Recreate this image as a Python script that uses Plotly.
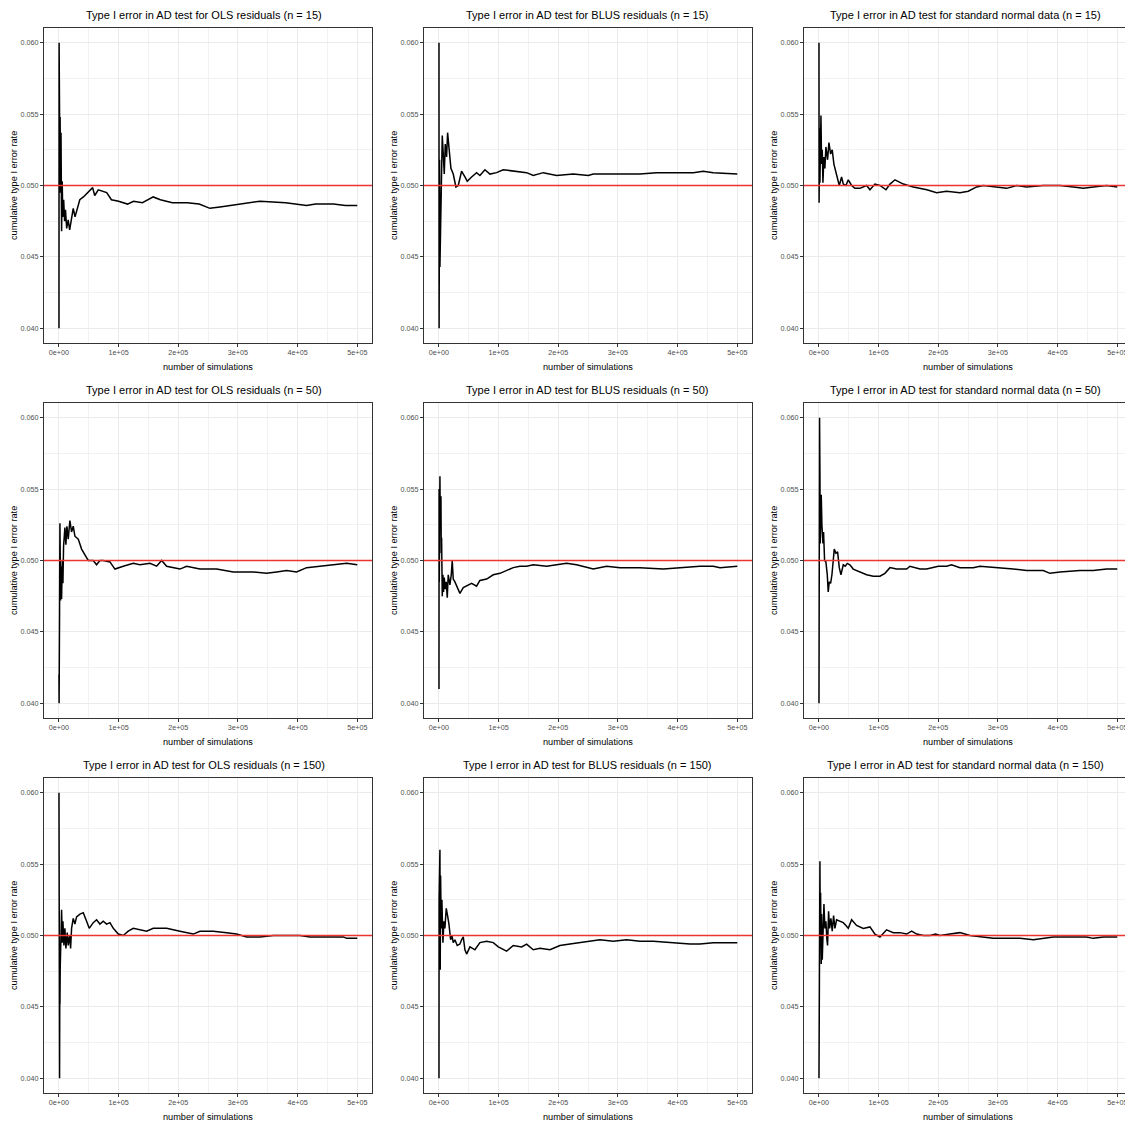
import plotly.graph_objects as go

FONT = "Liberation Sans, Arial, sans-serif"

# ---- axis ticks ----
x_ticks = [0, 100000, 200000, 300000, 400000, 500000]
x_tick_labels = ["0e+00", "1e+05", "2e+05", "3e+05", "4e+05", "5e+05"]
x_minor = [50000, 150000, 250000, 350000, 450000]
y_ticks = [0.040, 0.045, 0.050, 0.055, 0.060]
y_tick_labels = ["0.040", "0.045", "0.050", "0.055", "0.060"]
y_minor = [0.0425, 0.0475, 0.0525, 0.0575]
nominal_alpha = 0.05

titles = [
    "Type I error in AD test for OLS residuals (n = 15)",
    "Type I error in AD test for BLUS residuals (n = 15)",
    "Type I error in AD test for standard normal data (n = 15)",
    "Type I error in AD test for OLS residuals (n = 50)",
    "Type I error in AD test for BLUS residuals (n = 50)",
    "Type I error in AD test for standard normal data (n = 50)",
    "Type I error in AD test for OLS residuals (n = 150)",
    "Type I error in AD test for BLUS residuals (n = 150)",
    "Type I error in AD test for standard normal data (n = 150)",
]
x_title = "number of simulations"
y_title = "cumulative type I error rate"

# ---- series ----
sims_ols_15 = [100, 300, 600, 900, 1500, 2000, 2800, 3500, 4500, 5500, 6500, 8000, 9500, 11000, 13000,
               15500, 18000, 21000, 24000, 27000, 31000, 35000, 41000, 49000, 56500, 60000, 66000, 80000,
               88000, 100000, 115000, 125000, 140000, 158000, 170000, 190000, 215000, 235000, 253000,
               270000, 300000, 337000, 380000, 415000, 430000, 460000, 480000, 500000]
rate_ols_15 = [0.0400, 0.0600, 0.0445, 0.0561, 0.0520, 0.0548, 0.0495, 0.0537, 0.0468, 0.0503, 0.0478,
               0.0490, 0.0475, 0.0483, 0.0470, 0.0476, 0.0469, 0.0478, 0.0484, 0.0478, 0.0485, 0.0490,
               0.0492, 0.0495, 0.04985, 0.0493, 0.0497, 0.0495, 0.0490, 0.0489, 0.0487, 0.0489, 0.0488,
               0.0492, 0.0490, 0.0488, 0.0488, 0.0487, 0.0484, 0.0485, 0.0487, 0.0489, 0.0488, 0.0486,
               0.0487, 0.0487, 0.0486, 0.0486]

sims_blus_15 = [100, 300, 559, 1117, 1676, 3352, 4470, 5587, 7263, 8939, 10615, 12850, 14526, 17320, 20113,
                24024, 28494, 32405, 37992, 43579, 47490, 54753, 63133, 68720, 77101, 85481, 96655, 107829,
                130177, 146938, 158112, 174873, 197221, 225156, 250298, 258678, 292200, 336896, 364831,
                392766, 426288, 443049, 459810, 500000]
rate_blus_15 = [0.0600, 0.0400, 0.0477, 0.0518, 0.0443, 0.0483, 0.0525, 0.0535, 0.0522, 0.0508, 0.0529,
                0.0520, 0.0537, 0.0525, 0.0512, 0.0508, 0.0499, 0.0500, 0.0510, 0.0506, 0.0503, 0.0506,
                0.0509, 0.0507, 0.0511, 0.0508, 0.0509, 0.0511, 0.0510, 0.0509, 0.0507, 0.0509, 0.0507,
                0.0508, 0.0507, 0.0508, 0.0508, 0.0508, 0.0509, 0.0509, 0.0509, 0.0510, 0.0509, 0.0508]

sims_norm_15 = [100, 300, 1100, 1700, 2200, 3400, 4500, 5600, 6700, 8400, 10000, 11700, 14500, 16800, 19600,
                22300, 25100, 29600, 34100, 38000, 40800, 45300, 49200, 54800, 60300, 68700, 79900, 85500,
                93900, 102300, 112400, 119100, 127500, 141500, 158100, 180900, 197200, 214000, 236300,
                250300, 264300, 275500, 292200, 314600, 331400, 348100, 376000, 404000, 426300, 443000,
                459800, 482200, 500000]
rate_norm_15 = [0.0600, 0.0488, 0.0540, 0.0502, 0.0545, 0.0549, 0.0515, 0.0525, 0.0502, 0.0520, 0.0512,
                0.0527, 0.0518, 0.0530, 0.0522, 0.0525, 0.0515, 0.0508, 0.0500, 0.0506, 0.0501, 0.0500,
                0.0504, 0.0500, 0.0498, 0.0498, 0.0500, 0.0497, 0.0501, 0.0500, 0.0497, 0.0501, 0.0504,
                0.0501, 0.0499, 0.0497, 0.0495, 0.0496, 0.0495, 0.0496, 0.0499, 0.0500, 0.0499, 0.0498,
                0.0500, 0.0499, 0.0500, 0.0500, 0.0499, 0.0498, 0.0499, 0.0500, 0.0499]

sims_ols_50 = [100, 300, 1100, 1700, 2800, 3400, 4500, 5600, 6700, 7800, 10000, 11700, 13400, 15600, 18400,
               21200, 24000, 26800, 32400, 38000, 43600, 49200, 57500, 63100, 68700, 74300, 85500, 93900,
               107800, 124600, 135800, 152600, 163800, 172100, 180500, 202800, 214000, 236300, 264300,
               292200, 325700, 348100, 364800, 381600, 398300, 415100, 437400, 459800, 482200, 500000]
rate_ols_50 = [0.0420, 0.0400, 0.0465, 0.0526, 0.0472, 0.0496, 0.0473, 0.0500, 0.0484, 0.0510, 0.0523,
               0.0511, 0.0524, 0.0515, 0.0528, 0.0520, 0.0524, 0.0517, 0.0515, 0.0508, 0.0504, 0.0500,
               0.0500, 0.0497, 0.0500, 0.0500, 0.0499, 0.0494, 0.0496, 0.0498, 0.0497, 0.0498, 0.0496,
               0.0500, 0.0496, 0.0494, 0.0496, 0.0494, 0.0494, 0.0492, 0.0492, 0.0491, 0.0492, 0.0493,
               0.0492, 0.0495, 0.0496, 0.0497, 0.0498, 0.0497]

sims_blus_50 = [100, 300, 600, 1700, 2200, 3400, 3900, 4500, 5600, 6700, 7800, 8900, 10600, 12300, 14000,
                15600, 18400, 20700, 22300, 24000, 26800, 30700, 35200, 40800, 46400, 54800, 63100, 68700,
                79900, 91100, 102300, 113400, 124600, 135800, 147000, 158100, 180500, 197200, 214000,
                230700, 247500, 258700, 281000, 303400, 336900, 376000, 404000, 437400, 459800, 471000,
                500000]
rate_blus_50 = [0.0410, 0.0550, 0.0485, 0.0559, 0.0530, 0.0545, 0.0505, 0.0516, 0.0475, 0.0490, 0.0478,
                0.0488, 0.0480, 0.0485, 0.0474, 0.0490, 0.0483, 0.0490, 0.0500, 0.0487, 0.0485, 0.0481,
                0.0477, 0.0481, 0.0482, 0.0484, 0.0482, 0.0486, 0.0487, 0.0490, 0.0491, 0.0493, 0.0495,
                0.0496, 0.0496, 0.0497, 0.0496, 0.0497, 0.0498, 0.0497, 0.0495, 0.0494, 0.0496, 0.0495,
                0.0495, 0.0494, 0.0495, 0.0496, 0.0496, 0.0495, 0.0496]

sims_norm_50 = [100, 600, 1100, 1700, 2200, 3900, 5000, 6700, 7800, 9500, 11700, 14000, 15600, 17300, 19600,
                21800, 24000, 25700, 28500, 31300, 34100, 36900, 40800, 44100, 47500, 51900, 57500, 68700,
                79900, 91100, 102300, 110600, 119100, 130200, 147000, 152600, 169300, 180500, 191700,
                200100, 214000, 222300, 236300, 258700, 269800, 303400, 325700, 348100, 376000, 387200,
                404000, 437400, 459800, 482200, 500000]
rate_norm_50 = [0.0400, 0.0600, 0.0600, 0.0561, 0.0512, 0.0546, 0.0525, 0.0512, 0.0520, 0.0500, 0.0499,
                0.0490, 0.0478, 0.0485, 0.0484, 0.0490, 0.0500, 0.0508, 0.0505, 0.0506, 0.0495, 0.0490,
                0.0497, 0.0496, 0.0498, 0.0497, 0.0494, 0.0492, 0.0490, 0.0489, 0.0489, 0.0491, 0.0495,
                0.0494, 0.0494, 0.0496, 0.0494, 0.0494, 0.0495, 0.0496, 0.0496, 0.0497, 0.0495, 0.0495,
                0.0496, 0.0495, 0.0494, 0.0493, 0.0493, 0.0491, 0.0492, 0.0493, 0.0493, 0.0494, 0.0494]

sims_ols_150 = [100, 300, 600, 1100, 1500, 1700, 2200, 4500, 5600, 6700, 8400, 10000, 11700, 14000, 15600,
                17900, 19600, 21200, 24000, 26800, 29600, 35200, 40800, 46400, 50800, 57500, 63100, 68700,
                74300, 79900, 85500, 91100, 99500, 107800, 116200, 124600, 135800, 147000, 158100, 180500,
                202800, 225200, 236300, 258700, 281000, 297800, 314600, 336900, 359300, 381600, 404000,
                420700, 448600, 476600, 482200, 500000]
rate_ols_150 = [0.0600, 0.0400, 0.0487, 0.0400, 0.0473, 0.0452, 0.0478, 0.0518, 0.0495, 0.0510, 0.0493,
                0.0505, 0.0491, 0.0502, 0.0493, 0.0500, 0.0491, 0.0505, 0.0512, 0.0508, 0.0513, 0.0515,
                0.0516, 0.0510, 0.0505, 0.0509, 0.0511, 0.0508, 0.0510, 0.0508, 0.0509, 0.0505, 0.0501,
                0.0500, 0.0503, 0.0505, 0.0504, 0.0503, 0.0505, 0.0505, 0.0503, 0.0501, 0.0503, 0.0503,
                0.0502, 0.0501, 0.0499, 0.0499, 0.0500, 0.0500, 0.0500, 0.0499, 0.0499, 0.0499, 0.0498,
                0.0498]

sims_blus_150 = [100, 300, 1700, 2200, 2800, 3900, 5000, 6700, 8400, 10000, 12300, 14500, 16800, 19600,
                 21800, 24000, 26800, 30700, 35200, 38000, 40800, 43600, 46400, 52000, 60300, 68700, 79900,
                 91100, 99500, 113400, 124600, 138600, 147000, 158100, 169300, 186100, 202800, 219600,
                 236300, 247500, 269800, 292200, 314600, 336900, 359300, 392800, 420700, 437400, 459800,
                 500000]
rate_blus_150 = [0.0400, 0.0526, 0.0560, 0.0476, 0.0542, 0.0505, 0.0525, 0.0495, 0.0510, 0.0505, 0.0519,
                 0.0514, 0.0508, 0.0497, 0.0500, 0.0495, 0.0497, 0.0493, 0.0494, 0.0497, 0.0499, 0.0490,
                 0.0487, 0.0492, 0.0490, 0.0495, 0.0496, 0.0495, 0.0492, 0.0489, 0.0493, 0.0492, 0.0494,
                 0.0490, 0.0491, 0.0490, 0.0493, 0.0494, 0.0495, 0.0496, 0.0497, 0.0496, 0.0497, 0.0496,
                 0.0496, 0.0495, 0.0494, 0.0494, 0.0495, 0.0495]

sims_norm_150 = [100, 300, 600, 1100, 1700, 2200, 2800, 3900, 4500, 5600, 6700, 8400, 10000, 11700, 13400,
                 14500, 16200, 17900, 20100, 22300, 24600, 26800, 29600, 35200, 40800, 45300, 49200, 54800,
                 63100, 74300, 85500, 93900, 102300, 113400, 124600, 135800, 147000, 155400, 163800, 174900,
                 186100, 195600, 202800, 219600, 236300, 253100, 275500, 292200, 314600, 336900, 359300,
                 376000, 392800, 420700, 448600, 459800, 476600, 500000]
rate_norm_150 = [0.0400, 0.0482, 0.0461, 0.0540, 0.0552, 0.0508, 0.0530, 0.0480, 0.0515, 0.0483, 0.0508,
                 0.0522, 0.0505, 0.0510, 0.0497, 0.0493, 0.0517, 0.0505, 0.0512, 0.0503, 0.0514, 0.0505,
                 0.0511, 0.0510, 0.0509, 0.0507, 0.0505, 0.0511, 0.0507, 0.0505, 0.0506, 0.0501, 0.0499,
                 0.0504, 0.0502, 0.0502, 0.0501, 0.0503, 0.0501, 0.0500, 0.0500, 0.0501, 0.0500, 0.0501,
                 0.0502, 0.0500, 0.0499, 0.0498, 0.0498, 0.0498, 0.0497, 0.0498, 0.0499, 0.0499, 0.0499,
                 0.0498, 0.0499, 0.0499]

series = [
    (sims_ols_15, rate_ols_15), (sims_blus_15, rate_blus_15), (sims_norm_15, rate_norm_15),
    (sims_ols_50, rate_ols_50), (sims_blus_50, rate_blus_50), (sims_norm_50, rate_norm_50),
    (sims_ols_150, rate_ols_150), (sims_blus_150, rate_blus_150), (sims_norm_150, rate_norm_150),
]

# ---- layout geometry (pixels) ----
W, H = 1125, 1124
col_px = [(44.0, 372.2), (424.0, 752.2), (804.0, 1132.2)]
row_px = [(28.4, 342.6), (403.4, 717.6), (778.4, 1092.6)]
title_cx = [203.5, 587.0, 965.0]
x_full = (-25000.0, 525000.0)
y_range = [0.039, 0.061]

fig = go.Figure()
layout = dict(
    width=W, height=H,
    margin=dict(l=0, r=0, t=0, b=0),
    paper_bgcolor="white", plot_bgcolor="white",
    showlegend=False,
    font=dict(family=FONT, color="black"),
)
annotations = []

for k, ((xs, ys), title) in enumerate(zip(series, titles)):
    r, c = divmod(k, 3)
    n = k + 1
    xa = "x" if n == 1 else f"x{n}"
    ya = "y" if n == 1 else f"y{n}"
    left, right = col_px[c]
    top, bottom = row_px[r]
    # clip panel to the figure width (third column is cut in the original)
    vis_right = min(right, W)
    frac = (vis_right - left) / (right - left)
    xr = [x_full[0], x_full[0] + frac * (x_full[1] - x_full[0])]

    fig.add_trace(go.Scatter(
        x=xs, y=ys, mode="lines",
        line=dict(color="black", width=1.5),
        xaxis=xa, yaxis=ya, hoverinfo="skip",
    ))
    # nominal level reference line across the whole panel
    fig.add_trace(go.Scatter(
        x=xr, y=[nominal_alpha, nominal_alpha], mode="lines",
        line=dict(color="#EE3333", width=1.7),
        xaxis=xa, yaxis=ya, hoverinfo="skip",
    ))

    common_grid = dict(showgrid=True, gridcolor="#EBEBEB", gridwidth=1,
                       zeroline=False, showline=True, linecolor="#333333", linewidth=1,
                       ticks="outside", ticklen=3, tickwidth=1, tickcolor="#333333",
                       tickfont=dict(family=FONT, size=7.2, color="#4D4D4D"),
                       ticklabeloverflow="allow",
                       automargin=False, fixedrange=True)

    layout["xaxis" if n == 1 else f"xaxis{n}"] = dict(
        domain=[left / W, vis_right / W], anchor=ya, range=xr,
        tickmode="array", tickvals=x_ticks, ticktext=x_tick_labels,
        minor=dict(tickmode="array", tickvals=x_minor, showgrid=True,
                   gridcolor="#F2F2F2", gridwidth=0.6, ticks=""),
        mirror=True, **common_grid)
    layout["yaxis" if n == 1 else f"yaxis{n}"] = dict(
        domain=[1 - bottom / H, 1 - top / H], anchor=xa, range=y_range,
        tickmode="array", tickvals=y_ticks, ticktext=y_tick_labels,
        minor=dict(tickmode="array", tickvals=y_minor, showgrid=True,
                   gridcolor="#F2F2F2", gridwidth=0.6, ticks=""),
        mirror=(c < 2), **common_grid)

    annotations.append(dict(text=title, x=title_cx[c] / W, y=1 - (top - 13.5) / H,
                            xref="paper", yref="paper", showarrow=False,
                            xanchor="center", yanchor="middle",
                            font=dict(family=FONT, size=11, color="black")))
    annotations.append(dict(text=x_title, x=(left + 164) / W, y=1 - (bottom + 24) / H,
                            xref="paper", yref="paper", showarrow=False,
                            xanchor="center", yanchor="middle",
                            font=dict(family=FONT, size=9.2, color="black")))
    annotations.append(dict(text=y_title, x=(left - 30.5) / W, y=1 - (top + bottom) / 2 / H,
                            xref="paper", yref="paper", showarrow=False, textangle=-90,
                            xanchor="center", yanchor="middle",
                            font=dict(family=FONT, size=9.2, color="black")))

layout["annotations"] = annotations
fig.update_layout(**layout)
fig.write_html("out.html")
